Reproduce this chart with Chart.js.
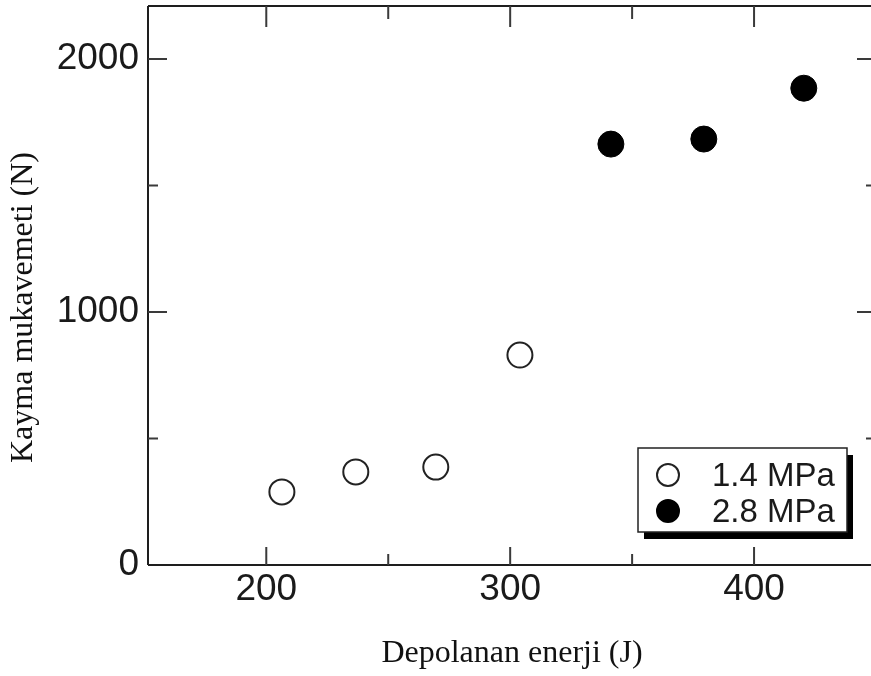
<!DOCTYPE html>
<html>
<head>
<meta charset="utf-8">
<script src="https://cdn.jsdelivr.net/npm/chart.js@4"></script>
<style>
  html, body { margin: 0; padding: 0; background: #fff; overflow: hidden; }
  #wrap { width: 876px; height: 676px; overflow: hidden; }
</style>
</head>
<body>
<div id="wrap"><canvas id="chart" width="876" height="676"></canvas></div>
<script>
// data
const lowLabel = '1.4 MPa';
const lowX = [206.4, 236.7, 269.5, 304];
const lowY = [289, 368, 387, 830];

const highLabel = '2.8 MPa';
const highX = [341.3, 379.4, 420.4];
const highY = [1664, 1684, 1885];

const xTicks = [200, 300, 400];
const xMinor = [250, 350];
const yTicks = [0, 1000, 2000];
const yMinor = [500, 1500];

const xTitle = 'Depolanan enerji (J)';
const yTitle = 'Kayma mukavemeti (N)';

const sans = '"Liberation Sans", Arial, sans-serif';
const serif = '"Liberation Serif", "Times New Roman", serif';

const toPoints = (xs, ys) => xs.map((x, i) => ({x: x, y: ys[i]}));

// frame, inward ticks, legend and y title
const framePlugin = {
  id: 'frame',
  afterDraw(chart) {
    const ctx = chart.ctx;
    const a = chart.chartArea;
    const xs = chart.scales.x, ys = chart.scales.y;
    ctx.save();
    ctx.strokeStyle = '#1e1e1e';
    ctx.lineWidth = 2;
    ctx.beginPath();
    ctx.moveTo(a.left, a.top); ctx.lineTo(a.right, a.top);
    ctx.moveTo(a.left, a.top); ctx.lineTo(a.left, a.bottom);
    ctx.moveTo(a.left, a.bottom); ctx.lineTo(a.right, a.bottom);
    ctx.moveTo(a.right, a.top); ctx.lineTo(a.right, a.bottom);
    ctx.stroke();

    ctx.strokeStyle = '#3a3a3a';
    ctx.lineWidth = 2;
    ctx.beginPath();
    const tickX = (v, len, topLen) => {
      const p = xs.getPixelForValue(v);
      ctx.moveTo(p, a.bottom); ctx.lineTo(p, a.bottom - len);
      ctx.moveTo(p, a.top); ctx.lineTo(p, a.top + topLen);
    };
    const tickY = (v, len) => {
      const p = ys.getPixelForValue(v);
      ctx.moveTo(a.left, p); ctx.lineTo(a.left + len, p);
      ctx.moveTo(a.right, p); ctx.lineTo(a.right - len, p);
    };
    xTicks.forEach(v => tickX(v, 18, 21));
    xMinor.forEach(v => tickX(v, 11, 13));
    yTicks.forEach(v => { if (v > 0) tickY(v, 19); });
    yMinor.forEach(v => tickY(v, 10));
    ctx.stroke();

    // legend box with drop shadow
    const bw = 209, bh = 84;
    const bx = a.right - 29 - bw, by = a.bottom - 33 - bh;
    ctx.fillStyle = '#000';
    ctx.fillRect(bx + 6, by + 7, bw, bh);
    ctx.fillStyle = '#fff';
    ctx.fillRect(bx, by, bw, bh);
    ctx.strokeStyle = '#222';
    ctx.lineWidth = 1.5;
    ctx.strokeRect(bx, by, bw, bh);

    const sets = chart.data.datasets;
    sets.forEach((ds, i) => {
      const cy = by + 27 + i * 36;
      ctx.beginPath();
      ctx.arc(bx + 30, cy, 11, 0, Math.PI * 2);
      ctx.fillStyle = ds.backgroundColor;
      ctx.fill();
      ctx.lineWidth = 2;
      ctx.strokeStyle = ds.borderColor;
      ctx.stroke();
      ctx.fillStyle = '#1a1a1a';
      ctx.font = '33px ' + sans;
      ctx.textBaseline = 'alphabetic';
      ctx.textAlign = 'left';
      ctx.fillText(ds.label, bx + 74, cy + 11);
    });

    // y axis title
    ctx.save();
    ctx.translate(24, (a.top + a.bottom) / 2 + 22);
    ctx.rotate(-Math.PI / 2);
    ctx.fillStyle = '#111';
    ctx.font = '32px ' + serif;
    ctx.textAlign = 'center';
    ctx.textBaseline = 'middle';
    ctx.fillText(yTitle, 0, 0);
    ctx.restore();
    ctx.restore();
  }
};

new Chart(document.getElementById('chart'), {
  type: 'scatter',
  data: {
    datasets: [
      {
        label: lowLabel,
        data: toPoints(lowX, lowY),
        backgroundColor: '#ffffff',
        borderColor: '#222222',
        borderWidth: 2,
        pointRadius: 12.5,
        pointHoverRadius: 12.5
      },
      {
        label: highLabel,
        data: toPoints(highX, highY),
        backgroundColor: '#000000',
        borderColor: '#000000',
        borderWidth: 1,
        pointRadius: 13,
        pointHoverRadius: 13
      }
    ]
  },
  options: {
    responsive: false,
    animation: false,
    events: [],
    layout: { autoPadding: false, padding: { top: 6, right: 0, left: 0, bottom: 0 } },
    plugins: {
      legend: { display: false },
      tooltip: { enabled: false }
    },
    scales: {
      x: {
        type: 'linear',
        min: 151.5,
        max: 450,
        grid: { display: false, drawTicks: false },
        border: { display: false },
        ticks: {
          color: '#1a1a1a',
          font: { family: sans, size: 37 },
          padding: 3,
          maxRotation: 0,
          callback: v => String(v)
        },
        afterBuildTicks: s => { s.ticks = xTicks.map(v => ({value: v})); },
        afterFit: s => {
          s.height = 111;
          s.paddingLeft = 0; s.paddingRight = 0;
        },
        title: {
          display: true,
          text: xTitle,
          color: '#111',
          font: { family: serif, size: 32 },
          padding: { top: 0, bottom: 3 }
        }
      },
      y: {
        type: 'linear',
        min: 0,
        max: 2210,
        grid: { display: false, drawTicks: false },
        border: { display: false },
        ticks: {
          color: '#1a1a1a',
          font: { family: sans, size: 37 },
          padding: 9,
          callback: v => String(v)
        },
        afterBuildTicks: s => { s.ticks = yTicks.map(v => ({value: v})); },
        afterFit: s => {
          s.width = 148;
          s.paddingTop = 0; s.paddingBottom = 0;
        }
      }
    }
  },
  plugins: [framePlugin]
});
</script>
</body>
</html>
